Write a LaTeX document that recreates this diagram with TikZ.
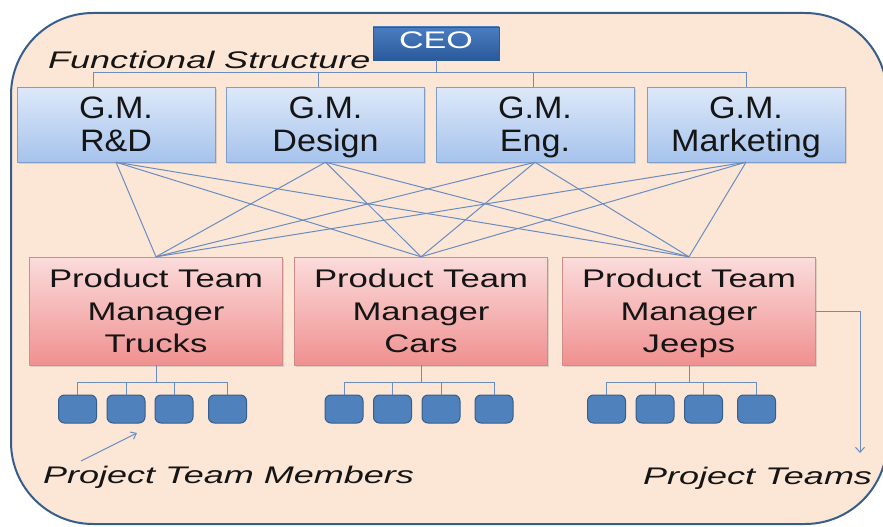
\documentclass[tikz,border=0pt]{standalone}
\usepackage{fontspec}
\setmainfont{Liberation Sans}
\newfontfamily\gmfont[FakeStretch=1.1]{Liberation Sans}
\newfontfamily\ptfont[FakeStretch=1.36]{Liberation Sans}
\newfontfamily\ceofont[FakeStretch=1.42]{Liberation Sans}
\newfontfamily\labfont[FakeStretch=1.5]{Liberation Sans}
\usetikzlibrary{arrows.meta,shadows}
\definecolor{bgc}{HTML}{FCE7D6}
\definecolor{framec}{HTML}{385D8A}
\definecolor{linec}{HTML}{6A8CC0}
\definecolor{gmtop}{HTML}{DDE9F9}
\definecolor{gmbot}{HTML}{A6C3EC}
\definecolor{gmborder}{HTML}{7F9DC9}
\definecolor{pttop}{HTML}{FBDCDC}
\definecolor{ptmid}{HTML}{F7C2C2}
\definecolor{ptbot}{HTML}{F09090}
\definecolor{ptborder}{HTML}{D38A8A}
\definecolor{ceotop}{HTML}{4A7DC0}
\definecolor{ceobot}{HTML}{2A5A9A}
\definecolor{memfill}{HTML}{4F81BD}
\definecolor{memborder}{HTML}{385D8A}
\definecolor{txt}{HTML}{151515}
\newcommand{\nodepth}[1]{\raisebox{0pt}[\height][0pt]{#1}}
\tikzset{
  conn/.style={draw=linec, line width=1pt},
  ceobox/.style={draw=ceobot, top color=ceotop, bottom color=ceobot, minimum width=126pt, minimum height=33pt, inner sep=0pt, text=white, font=\ceofont\fontsize{24}{28}\selectfont, text height=17pt, text depth=7pt},
  gmbox/.style={draw=gmborder, top color=gmtop, bottom color=gmbot, minimum width=198pt, minimum height=75pt, inner sep=0pt, align=center, text=txt, font=\gmfont\fontsize{31}{33}\selectfont, drop shadow={opacity=0.25, shadow xshift=1.5pt, shadow yshift=-1.5pt}},
  ptbox/.style={draw=ptborder, top color=pttop, middle color=ptmid, bottom color=ptbot, minimum width=253pt, minimum height=108pt, inner sep=0pt, align=center, text=txt, font=\ptfont\fontsize{25.5}{32.5}\selectfont, drop shadow={opacity=0.25, shadow xshift=1.5pt, shadow yshift=-1.5pt}},
  mem/.style={draw=memborder, fill=memfill, line width=1pt, rounded corners=6pt, minimum width=38pt, minimum height=28pt, inner sep=0pt},
  lab/.style={anchor=base west, inner sep=0pt, text=txt, font=\labfont\itshape\fontsize{24}{28}\selectfont}
}
\begin{document}
\begin{tikzpicture}[x=1pt,y=-1pt]
\fill[white] (0,0) rectangle (883,527);
\useasboundingbox (0,0) rectangle (883,527);
\draw[framec, line width=2pt, fill=bgc, rounded corners=82pt] (11,13) rectangle (887,524);

% top level
\node[ceobox] (ceo) at (436,43.5) {CEO};
\node[lab] (fs) at (48,68) {Functional Structure};

% general managers
\node[gmbox] (rd) at (116,124.5) {G.M.\\\nodepth{R\&D}};
\node[gmbox] (des) at (325.5,124.5) {G.M.\\\nodepth{Design}};
\node[gmbox] (eng) at (535,124.5) {G.M.\\\nodepth{Eng.}};
\node[gmbox] (mkt) at (746,124.5) {G.M.\\\nodepth{Marketing}};

% product team managers
\node[ptbox] (trk) at (156,311) {Product Team\\Manager\\\nodepth{Trucks}};
\node[ptbox] (car) at (421,311) {Product Team\\Manager\\\nodepth{Cars}};
\node[ptbox] (jep) at (689,311) {Product Team\\Manager\\\nodepth{Jeeps}};

% team members
\node[mem] (t1) at (77.5,409) {};
\node[mem] (t2) at (126,409) {};
\node[mem] (t3) at (174,409) {};
\node[mem] (t4) at (227.5,409) {};
\node[mem] (c1) at (344,409) {};
\node[mem] (c2) at (392.5,409) {};
\node[mem] (c3) at (441,409) {};
\node[mem] (c4) at (494,409) {};
\node[mem] (j1) at (606.5,409) {};
\node[mem] (j2) at (655,409) {};
\node[mem] (j3) at (703.5,409) {};
\node[mem] (j4) at (756.5,409) {};

% CEO to GMs
\foreach \n/\dx in {rd/-23, des/-7.5, eng/-2, mkt/0}
  \draw[conn] (ceo.south) -- ++(0,12) -| ([xshift=\dx pt]\n.north);

% matrix lines
\foreach \g in {rd,des,eng,mkt}
  \foreach \p in {trk,car,jep}
    \draw[conn] (\g.south) -- (\p.north);

% managers to members
\foreach \p/\pre in {trk/t,car/c,jep/j}
  \foreach \i in {1,...,4}
    \draw[conn] (\p.south) -- ++(0,17) -| (\pre\i.north);

% labels
\node[lab] (ptm) at (43,483) {Project Team Members};
\node[lab] (ptl) at (643,484) {Project Teams};

\coordinate (pma) at (81,461);
\coordinate (pmb) at (137,433);
\draw[conn, -{Straight Barb[length=5pt,width=8pt]}] (pma) -- (pmb);

\coordinate (ptend) at (860,453);
\draw[conn, -{Straight Barb[length=5pt,width=9pt]}] (jep.east) -| (ptend);
\end{tikzpicture}
\end{document}
